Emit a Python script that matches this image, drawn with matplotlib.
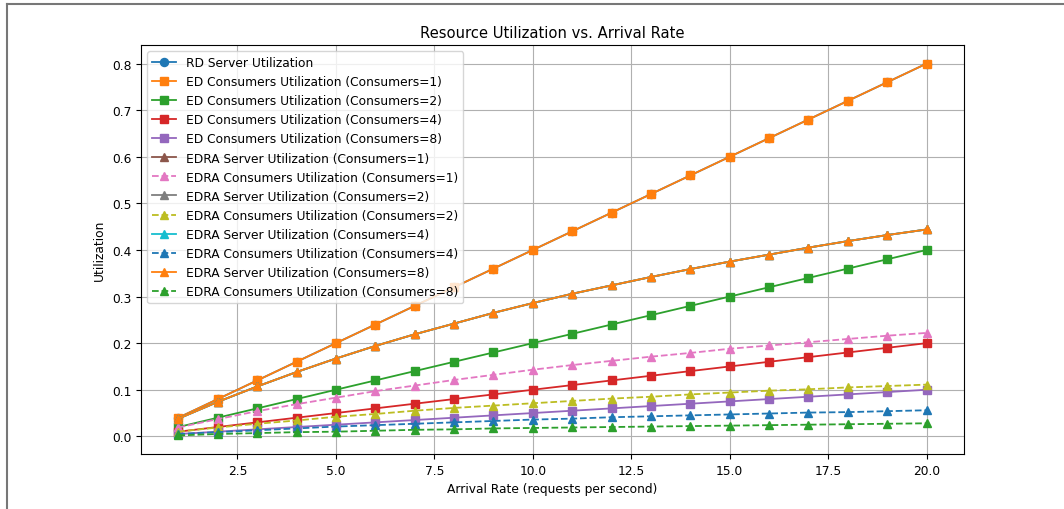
import matplotlib
matplotlib.use("Agg")
import matplotlib.pyplot as plt
from matplotlib.lines import Line2D

# data
arrival_rate = list(range(1, 21))

rd_server = [0.04, 0.08, 0.12, 0.16, 0.20, 0.24, 0.28, 0.32, 0.36, 0.40,
             0.44, 0.48, 0.52, 0.56, 0.60, 0.64, 0.68, 0.72, 0.76, 0.80]
ed_cons_1 = [0.04, 0.08, 0.12, 0.16, 0.20, 0.24, 0.28, 0.32, 0.36, 0.40,
             0.44, 0.48, 0.52, 0.56, 0.60, 0.64, 0.68, 0.72, 0.76, 0.80]
ed_cons_2 = [0.02, 0.04, 0.06, 0.08, 0.10, 0.12, 0.14, 0.16, 0.18, 0.20,
             0.22, 0.24, 0.26, 0.28, 0.30, 0.32, 0.34, 0.36, 0.38, 0.40]
ed_cons_4 = [0.01, 0.02, 0.03, 0.04, 0.05, 0.06, 0.07, 0.08, 0.09, 0.10,
             0.11, 0.12, 0.13, 0.14, 0.15, 0.16, 0.17, 0.18, 0.19, 0.20]
ed_cons_8 = [0.005, 0.010, 0.015, 0.020, 0.025, 0.030, 0.035, 0.040, 0.045, 0.050,
             0.055, 0.060, 0.065, 0.070, 0.075, 0.080, 0.085, 0.090, 0.095, 0.100]

edra_server = [0.038, 0.074, 0.107, 0.138, 0.167, 0.194, 0.219, 0.242, 0.265, 0.286,
               0.306, 0.324, 0.342, 0.359, 0.375, 0.390, 0.405, 0.419, 0.432, 0.444]
edra_cons_1 = [0.019, 0.037, 0.054, 0.069, 0.083, 0.097, 0.109, 0.121, 0.132, 0.143,
               0.153, 0.162, 0.171, 0.179, 0.188, 0.195, 0.202, 0.209, 0.216, 0.222]
edra_cons_2 = [0.010, 0.019, 0.027, 0.034, 0.042, 0.048, 0.055, 0.061, 0.066, 0.071,
               0.076, 0.081, 0.085, 0.090, 0.094, 0.098, 0.101, 0.105, 0.108, 0.111]
edra_cons_4 = [0.005, 0.009, 0.013, 0.017, 0.021, 0.024, 0.027, 0.030, 0.033, 0.036,
               0.038, 0.041, 0.043, 0.045, 0.047, 0.049, 0.051, 0.052, 0.054, 0.056]
edra_cons_8 = [0.002, 0.005, 0.007, 0.009, 0.010, 0.012, 0.014, 0.015, 0.017, 0.018,
               0.019, 0.020, 0.021, 0.022, 0.023, 0.024, 0.025, 0.026, 0.027, 0.028]

consumers = [1, 2, 4, 8]
ed_cons = [ed_cons_1, ed_cons_2, ed_cons_4, ed_cons_8]
edra_cons = [edra_cons_1, edra_cons_2, edra_cons_4, edra_cons_8]

fs = 8.8
ms = 5.8
lw = 1.3

fig = plt.figure(figsize=(10.64, 5.10), dpi=100)
ax = fig.add_axes([141 / 1064, 55 / 510, 823 / 1064, 409 / 510])

ax.plot(arrival_rate, rd_server, marker='o', ms=ms, lw=lw, label='RD Server Utilization')
for c, vals in zip(consumers, ed_cons):
    ax.plot(arrival_rate, vals, marker='s', ms=ms, lw=lw,
            label=f'ED Consumers Utilization (Consumers={c})')
for c, vals in zip(consumers, edra_cons):
    ax.plot(arrival_rate, edra_server, marker='^', ms=ms, lw=lw,
            label=f'EDRA Server Utilization (Consumers={c})')
    ax.plot(arrival_rate, vals, marker='^', ms=ms, lw=lw, linestyle='--',
            label=f'EDRA Consumers Utilization (Consumers={c})')

ax.set_title('Resource Utilization vs. Arrival Rate', fontsize=10.6)
ax.set_xlabel('Arrival Rate (requests per second)', fontsize=fs)
ax.set_ylabel('Utilization', fontsize=fs)
ax.tick_params(labelsize=fs)
ax.grid(True)
ax.legend(loc='upper left', fontsize=fs)

# frame left over from the screenshot
fig.add_artist(Line2D([7 / 1064, 7 / 1064], [0, 1 - 5 / 510], color='#777777', lw=1.5))
fig.add_artist(Line2D([7 / 1064, 1], [1 - 5 / 510, 1 - 5 / 510], color='#777777', lw=1.5))

fig.savefig('out.png', dpi=100)
